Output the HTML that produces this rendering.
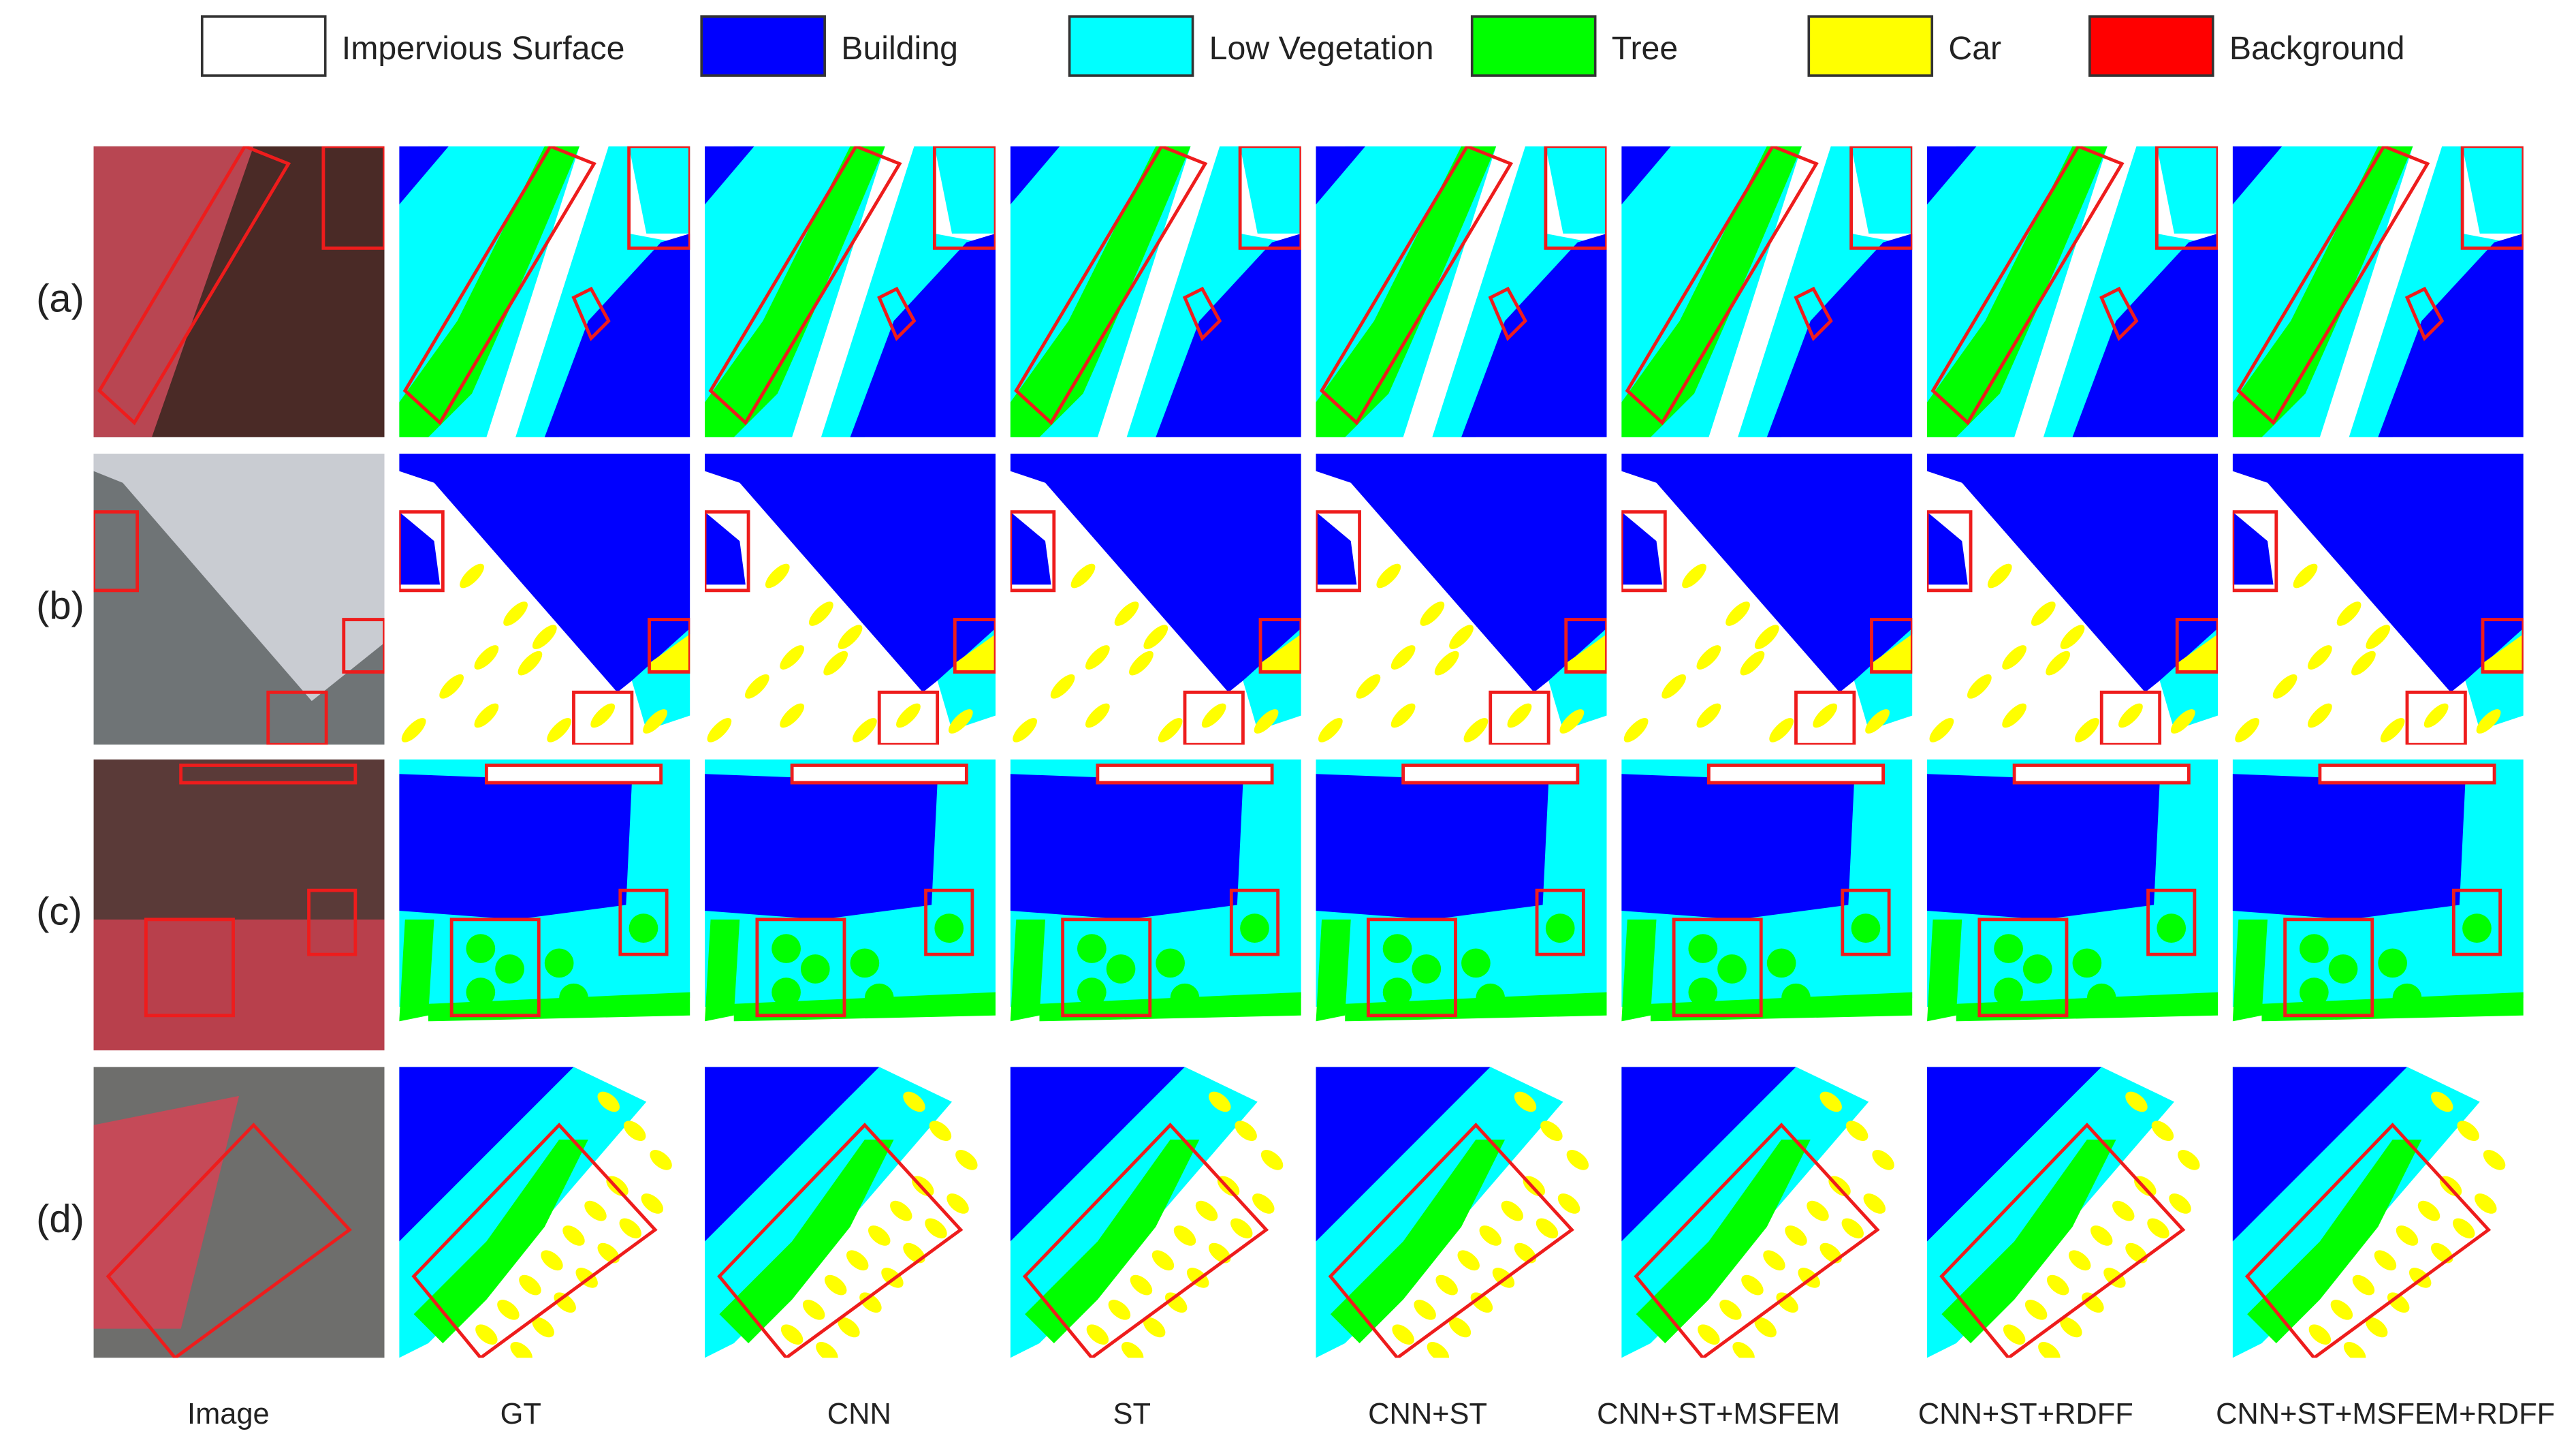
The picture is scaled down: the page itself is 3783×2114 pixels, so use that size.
<!DOCTYPE html>
<html><head><meta charset="utf-8">
<style>
html,body{margin:0;padding:0;background:#fff;}
svg{display:block;}
text{font-family:"Liberation Sans",sans-serif;fill:#222;}
</style></head>
<body>
<svg id="fig" width="3783" height="2114" viewBox="0 0 1568 876" preserveAspectRatio="none" xmlns="http://www.w3.org/2000/svg"></svg>
<script>
const classNames = ["Impervious Surface","Building","Low Vegetation","Tree","Car","Background"];
const classColors = ["#ffffff","#0000ff","#00ffff","#00ff00","#ffff00","#ff0000"];
const legendBoxX = [123,427,651,896,1101,1272];
const columnTitles = ["Image","GT","CNN","ST","CNN+ST","CNN+ST+MSFEM","CNN+ST+RDFF","CNN+ST+MSFEM+RDFF"];
const titleCenters = [139,317,523,689,869,1046,1233,1452];
const rowLabels = ["(a)","(b)","(c)","(d)"];

const NS="http://www.w3.org/2000/svg";
const svg=document.getElementById('fig');
function mk(tag,attrs,parent){const e=document.createElementNS(NS,tag);for(const k in attrs)e.setAttribute(k,attrs[k]);(parent||svg).appendChild(e);return e;}

const lg=mk('g',{});


classNames.forEach((n,i)=>{
  const g=mk('g',{},lg);
  
  
  const x=legendBoxX[i];
  mk('rect',{x:x,y:10,width:75,height:36,fill:classColors[i],stroke:'#333','stroke-width':1.5},g);
  const t=mk('text',{x:x+85,y:36,'font-size':20},g);t.textContent=n;
});

const colX0=57, colStep=186, cell=177;
const rowY=[89,276,462,649];

function P(ox,oy,pts,fill,par,stroke){
  return mk('polygon',{points:pts.map(p=>(ox+p[0]*cell)+','+(oy+p[1]*cell)).join(' '),fill:fill||'none',stroke:stroke||'none','stroke-width':2},par);
}
function E(ox,oy,cx,cy,rx,ry,rot,fill,par){
  return mk('ellipse',{cx:ox+cx*cell,cy:oy+cy*cell,rx:rx*cell,ry:ry*cell,fill:fill,transform:`rotate(${rot} ${ox+cx*cell} ${oy+cy*cell})`},par);
}
function R(ox,oy,x1,y1,x2,y2,par){P(ox,oy,[[x1,y1],[x2,y1],[x2,y2],[x1,y2]],'none',par,'#ee1c1c');}

const B=classColors[1],C=classColors[2],G=classColors[3],Y=classColors[4];

function drawMap(r,ox,oy,par){
  mk('rect',{x:ox,y:oy,width:cell,height:cell,fill:'#fff'},par);
  if(r===0){
    P(ox,oy,[[0.1,0],[0.62,0],[0.3,1],[0,1],[0,0.2]],C,par);
    P(ox,oy,[[0.72,0],[0.79,0],[0.79,0.3],[0.95,0.33],[0.55,1],[0.4,1]],C,par);
    P(ox,oy,[[0.79,0],[1,0],[1,0.3],[0.85,0.3]],C,par);
    P(ox,oy,[[0.9,0.33],[1,0.3],[1,1],[0.5,1],[0.65,0.6]],B,par);
    P(ox,oy,[[0,0],[0.17,0],[0,0.2]],B,par);
    P(ox,oy,[[0.5,0],[0.62,0],[0.45,0.4],[0.25,0.85],[0.1,1],[0,1],[0,0.88],[0.2,0.6],[0.35,0.3]],G,par);
    R(ox,oy,0.79,0.0,1.0,0.35,par);
    P(ox,oy,[[0.02,0.84],[0.52,0.0],[0.67,0.06],[0.14,0.95]],'none',par,'#ee1c1c');
    P(ox,oy,[[0.6,0.52],[0.66,0.49],[0.72,0.6],[0.66,0.66]],'none',par,'#ee1c1c');
  } else if(r===1){
    P(ox,oy,[[0,0],[1,0],[1,0.62],[0.75,0.82],[0.12,0.1],[0,0.06]],B,par);
    P(ox,oy,[[0,0.2],[0.12,0.3],[0.14,0.45],[0,0.45]],B,par);
    P(ox,oy,[[0.8,0.78],[1,0.6],[1,0.9],[0.85,0.95]],C,par);
    P(ox,oy,[[0.86,0.72],[1,0.62],[1,0.75],[0.86,0.75]],Y,par);
    [[0.25,0.42],[0.4,0.55],[0.5,0.63],[0.45,0.72],[0.3,0.7],[0.18,0.8],[0.05,0.95],[0.7,0.9],[0.55,0.95],[0.3,0.9],[0.88,0.92]].forEach(c=>E(ox,oy,c[0],c[1],0.055,0.022,-45,Y,par));
    R(ox,oy,0,0.2,0.15,0.47,par);R(ox,oy,0.86,0.57,1.0,0.75,par);R(ox,oy,0.6,0.82,0.8,1.0,par);
  } else if(r===2){
    P(ox,oy,[[0,0],[1,0],[1,0.82],[0,0.85]],C,par);
    P(ox,oy,[[0,0.05],[0.8,0.08],[0.78,0.5],[0.4,0.55],[0,0.52]],B,par);
    P(ox,oy,[[0.3,0.02],[0.9,0.02],[0.9,0.08],[0.3,0.08]],'#fff',par);
    P(ox,oy,[[0.02,0.55],[0.12,0.55],[0.1,0.88],[0,0.9]],G,par);
    P(ox,oy,[[0.1,0.84],[1,0.8],[1,0.88],[0.1,0.9]],G,par);
    [[0.28,0.65],[0.38,0.72],[0.28,0.8],[0.55,0.7],[0.6,0.82],[0.84,0.58]].forEach(c=>E(ox,oy,c[0],c[1],0.05,0.05,0,G,par));
    mk('rect',{x:ox,y:oy+0.9*cell,width:cell,height:0.1*cell,fill:'#fff'},par);
    R(ox,oy,0.3,0.02,0.9,0.08,par);R(ox,oy,0.76,0.45,0.92,0.67,par);R(ox,oy,0.18,0.55,0.48,0.88,par);
  } else {
    P(ox,oy,[[0,0],[0.6,0],[0.85,0.12],[0.35,0.7],[0.1,0.95],[0,1]],C,par);
    P(ox,oy,[[0,0],[0.6,0],[0,0.6]],B,par);
    P(ox,oy,[[0.55,0.25],[0.65,0.25],[0.5,0.55],[0.3,0.8],[0.15,0.95],[0.05,0.85],[0.3,0.6]],G,par);
    for(let k=0;k<7;k++){E(ox,oy,0.3+k*0.075,0.92-k*0.085,0.045,0.025,40,Y,par);}
    for(let k=0;k<7;k++){E(ox,oy,0.42+k*0.075,0.98-k*0.085,0.045,0.025,40,Y,par);}
    for(let k=0;k<3;k++){E(ox,oy,0.72+k*0.09,0.12+k*0.1,0.045,0.025,40,Y,par);}
    P(ox,oy,[[0.05,0.72],[0.55,0.2],[0.88,0.56],[0.28,1.0]],'none',par,'#ee1c1c');
  }
}
const imgBase=['#4a2a26','#6f7476','#5a3a38','#6e6e6c'];
function drawImage(r,ox,oy,par){
  mk('rect',{x:ox,y:oy,width:cell,height:cell,fill:imgBase[r]},par);
  if(r===0){P(ox,oy,[[0,0],[0.55,0],[0.2,1],[0,1]],'#b84652',par);R(ox,oy,0.79,0,1,0.35,par);P(ox,oy,[[0.02,0.84],[0.52,0.0],[0.67,0.06],[0.14,0.95]],'none',par,'#ee1c1c');}
  if(r===1){P(ox,oy,[[0,0],[1,0],[1,0.65],[0.75,0.85],[0.1,0.1],[0,0.06]],'#c9ccd2',par);R(ox,oy,0,0.2,0.15,0.47,par);R(ox,oy,0.86,0.57,1.0,0.75,par);R(ox,oy,0.6,0.82,0.8,1.0,par);}
  if(r===2){P(ox,oy,[[0,0.55],[1,0.55],[1,1],[0,1]],'#b8404c',par);R(ox,oy,0.3,0.02,0.9,0.08,par);R(ox,oy,0.74,0.45,0.9,0.67,par);R(ox,oy,0.18,0.55,0.48,0.88,par);}
  if(r===3){P(ox,oy,[[0,0.2],[0.5,0.1],[0.3,0.9],[0,0.9]],'#c54a58',par);P(ox,oy,[[0.05,0.72],[0.55,0.2],[0.88,0.56],[0.28,1.0]],'none',par,'#ee1c1c');}
}
rowLabels.forEach((lab,r)=>{
  const t=mk('text',{x:22,y:rowY[r]+cell/2+12,'font-size':24});
  
  
  t.textContent=lab;
  columnTitles.forEach((ct,c)=>{
    const g=mk('g',{});
    
    
    const ox=colX0+c*colStep, oy=rowY[r];
    const cp=mk('clipPath',{id:`cp${r}_${c}`},g);
    mk('rect',{x:ox,y:oy,width:cell,height:cell},cp);
    const inner=mk('g',{'clip-path':`url(#cp${r}_${c})`},g);
    if(c===0)drawImage(r,ox,oy,inner);else drawMap(r,ox,oy,inner);
  });
});
columnTitles.forEach((ct,c)=>{
  const t=mk('text',{x:titleCenters[c],y:866,'font-size':18,'text-anchor':'middle'});
  
  
  t.textContent=ct;
});
</script>
</body></html>
